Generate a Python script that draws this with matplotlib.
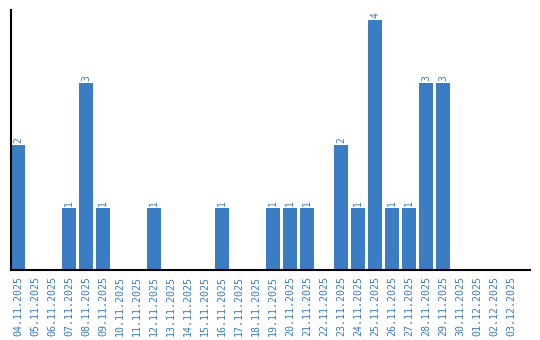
import matplotlib
matplotlib.use("Agg")
import matplotlib.pyplot as plt

dates = ["04.11.2025", "05.11.2025", "06.11.2025", "07.11.2025", "08.11.2025",
         "09.11.2025", "10.11.2025", "11.11.2025", "12.11.2025", "13.11.2025",
         "14.11.2025", "15.11.2025", "16.11.2025", "17.11.2025", "18.11.2025",
         "19.11.2025", "20.11.2025", "21.11.2025", "22.11.2025", "23.11.2025",
         "24.11.2025", "25.11.2025", "26.11.2025", "27.11.2025", "28.11.2025",
         "29.11.2025", "30.11.2025", "01.12.2025", "02.12.2025", "03.12.2025"]
counts = [2, 0, 0, 1, 3, 1, 0, 0, 1, 0, 0, 0, 1, 0, 0, 1, 1, 1, 0, 2,
          1, 4, 1, 1, 3, 3, 0, 0, 0, 0]

blue = "#3b7dc2"
fig = plt.figure(figsize=(5.4, 3.4), dpi=100)
ax = fig.add_axes([11/540, 70/340, 519/540, 260/340])
x = list(range(len(dates)))
ax.bar(x, counts, width=0.82, color=blue)
for xi, v in zip(x, counts):
    if v > 0:
        ax.text(xi, v + 0.03, str(v), rotation=90, ha="center", va="bottom",
                color=blue, fontsize=7, family="DejaVu Sans Mono")
ax.set_xlim(-0.41, 30.1)
ax.set_ylim(0, 4.16)
ax.set_xticks(x)
ax.set_xticklabels(dates, rotation=90, color=blue, fontsize=7.2, family="DejaVu Sans Mono")
ax.tick_params(axis="x", length=0, pad=4)
ax.set_yticks([])
for s in ["top", "right"]:
    ax.spines[s].set_visible(False)
ax.spines["left"].set_linewidth(1.5)
ax.spines["bottom"].set_linewidth(1.5)
fig.savefig("out.png", dpi=100)
